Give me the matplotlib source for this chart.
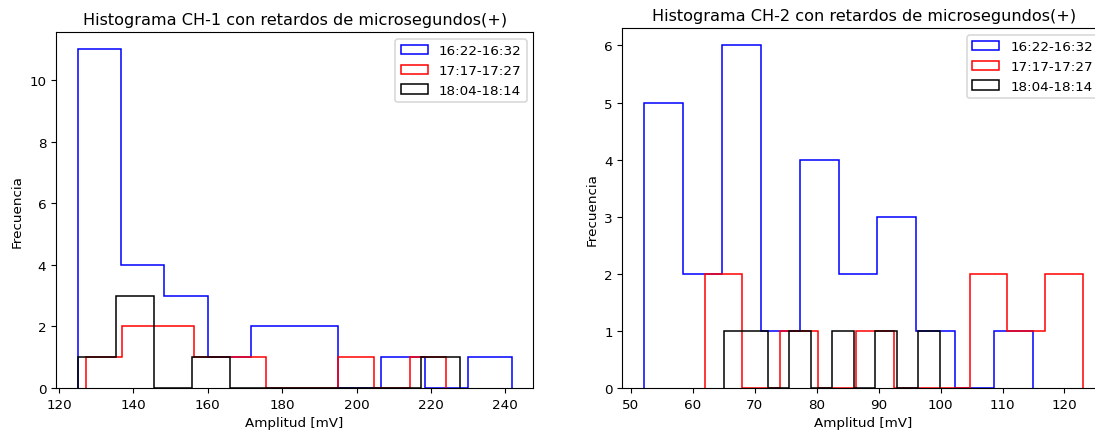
import numpy as np
import matplotlib
matplotlib.use('Agg')
import matplotlib.pyplot as plt

plt.rcParams.update({'font.size': 9.7, 'lines.linewidth': 1.1, 'patch.linewidth': 1.1})

LABELS = ['16:22-16:32', '17:17-17:27', '18:04-18:14']
COLORS = ['blue', 'red', 'black']

# CH-1: (min, max) of each series' bin range and the 10 bin counts
CH1_RANGES = [(125.0, 241.7), (127.2, 224.0), (125.0, 227.7)]
CH1_BLUE = [11, 4, 3, 1, 2, 2, 0, 1, 0, 1]
CH1_RED = [1, 2, 2, 1, 1, 0, 0, 1, 0, 1]
CH1_BLACK = [1, 3, 0, 1, 0, 0, 0, 0, 0, 1]

# CH-2
CH2_RANGES = [(52.15, 114.9), (61.9, 123.0), (65.1, 99.9)]
CH2_BLUE = [5, 2, 6, 1, 4, 2, 3, 1, 0, 1]
CH2_RED = [2, 0, 1, 0, 1, 0, 0, 2, 1, 2]
CH2_BLACK = [1, 1, 0, 1, 0, 1, 0, 1, 0, 1]

W, H = 1095, 435
fig = plt.figure(figsize=(W / 100, H / 100), dpi=100)


def px_axes(left, right, top, bottom):
    return fig.add_axes([left / W, (H - bottom) / H, (right - left) / W, (bottom - top) / H])


def draw(ax, ranges, series, title):
    for (lo, hi), counts, col, lab in zip(ranges, series, COLORS, LABELS):
        edges = np.linspace(lo, hi, len(counts) + 1)
        ax.hist(edges[:-1], bins=edges, weights=counts, histtype='step',
                color=col, label=lab)
    ax.set_title(title)
    ax.set_xlabel('Amplitud [mV]')
    ax.set_ylabel('Frecuencia')
    ax.legend(loc='upper right')


ax1 = px_axes(56, 533.3, 33.3, 389)
draw(ax1, CH1_RANGES, [CH1_BLUE, CH1_RED, CH1_BLACK],
     'Histograma CH-1 con retardos de microsegundos(+)')

ax2 = px_axes(622.3, 1105, 29.3, 389)
draw(ax2, CH2_RANGES, [CH2_BLUE, CH2_RED, CH2_BLACK],
     'Histograma CH-2 con retardos de microsegundos(+)')

fig.savefig('out.png', dpi=100)
